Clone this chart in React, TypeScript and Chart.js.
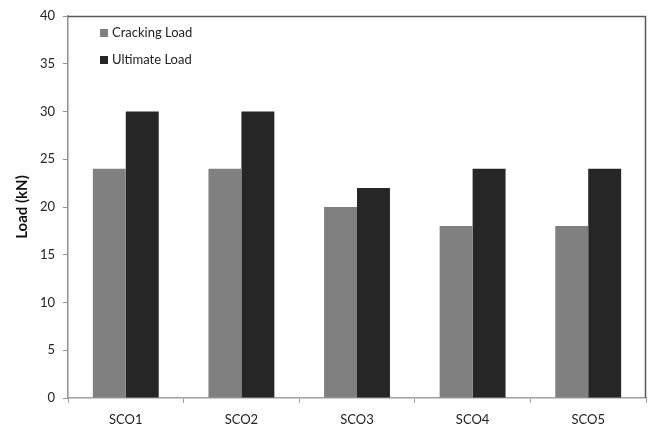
import React, { useEffect, useRef } from "react";
import { Chart, registerables } from "chart.js";

Chart.register(...registerables);

const categories = ["SCO1", "SCO2", "SCO3", "SCO4", "SCO5"];
const crackingLoad = [24, 24, 20, 18, 18];
const ultimateLoad = [30, 30, 22, 24, 24];
const seriesNames = ["Cracking Load", "Ultimate Load"];
const yTitle = "Load (kN)";

const FONT = "Lato, 'Open Sans', sans-serif";

const legendInside = {
  id: "legendInside",
  afterDraw(chart: any) {
    const { ctx, chartArea } = chart;
    ctx.save();
    ctx.font = `13px ${FONT}`;
    ctx.textBaseline = "middle";
    chart.data.datasets.forEach((ds: any, i: number) => {
      const y = chartArea.top + 17 + i * 27;
      const x = chartArea.left + 32;
      ctx.fillStyle = ds.backgroundColor;
      ctx.fillRect(x, y - 4, 8, 8);
      ctx.fillStyle = "#222";
      ctx.fillText(ds.label, x + 12, y);
    });
    ctx.restore();
  },
};

const frame = {
  id: "frame",
  afterDraw(chart: any) {
    const { ctx, chartArea } = chart;
    ctx.save();
    ctx.strokeStyle = "#5a5a5a";
    ctx.lineWidth = 1.5;
    ctx.beginPath();
    ctx.moveTo(chartArea.left, chartArea.top + 0.5);
    ctx.lineTo(chartArea.right - 0.5, chartArea.top + 0.5);
    ctx.lineTo(chartArea.right - 0.5, chartArea.bottom);
    ctx.stroke();
    ctx.restore();
  },
};

export default function App() {
  const ref = useRef<HTMLCanvasElement>(null);
  useEffect(() => {
    if (!ref.current) return;
    const chart = new Chart(ref.current, {
      type: "bar",
      data: {
        labels: categories,
        datasets: [
          {
            label: seriesNames[0],
            data: crackingLoad,
            backgroundColor: "#808080",
            categoryPercentage: 0.57,
            barPercentage: 1,
          },
          {
            label: seriesNames[1],
            data: ultimateLoad,
            backgroundColor: "#262626",
            categoryPercentage: 0.57,
            barPercentage: 1,
          },
        ],
      },
      options: {
        animation: false,
        responsive: false,
        maintainAspectRatio: false,
        layout: { padding: { left: 0, top: 16, right: 4, bottom: 0 } },
        plugins: { legend: { display: false }, tooltip: { enabled: false } },
        scales: {
          x: {
            grid: {
              display: true,
              drawOnChartArea: false,
              offset: true,
              tickLength: 5,
              color: "#a0a0a0",
            },
            border: { color: "#a0a0a0", width: 1.5 },
            ticks: { color: "#222", font: { family: FONT, size: 13 }, padding: 9 },
            afterFit(scale: any) {
              scale.height = 29;
            },
          },
          y: {
            min: 0,
            max: 40,
            ticks: { stepSize: 5, color: "#222", font: { family: FONT, size: 13 }, padding: 8 },
            grid: {
              display: true,
              drawOnChartArea: false,
              tickLength: 5,
              color: "#909090",
            },
            border: { color: "#909090", width: 1.5 },
            title: {
              display: true,
              text: yTitle,
              color: "#111",
              font: { family: FONT, size: 15, weight: "bold" },
              padding: { top: 13, bottom: 0 },
            },
            afterFit(scale: any) {
              scale.width = 68;
            },
          },
        },
      },
      plugins: [legendInside, frame],
    });
    return () => chart.destroy();
  }, []);
  return (
    <div style={{ position: "absolute", left: 0, top: 0, width: 650, height: 427, background: "#fff" }}>
      <canvas ref={ref} width={650} height={427} />
    </div>
  );
}
